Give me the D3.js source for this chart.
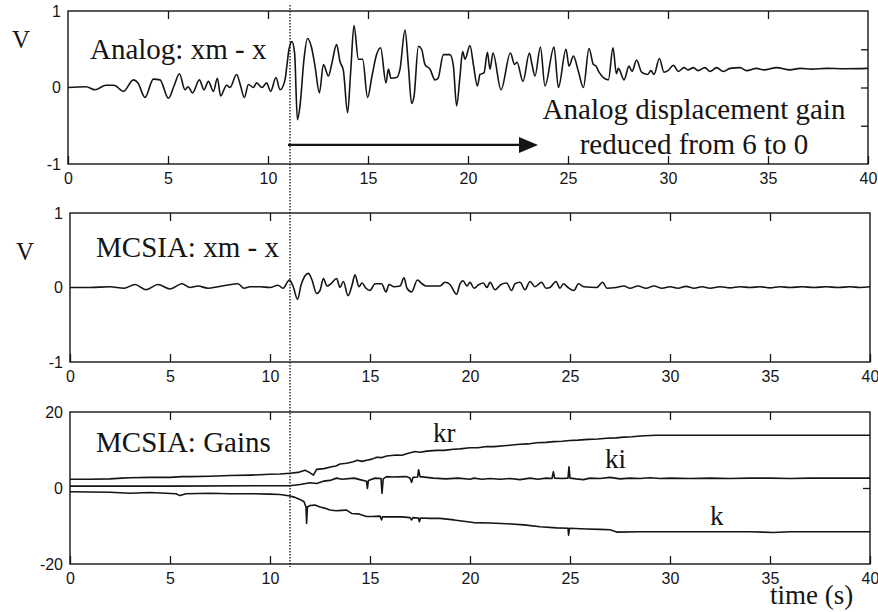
<!DOCTYPE html>
<html>
<head>
<meta charset="utf-8">
<script src="https://cdn.jsdelivr.net/npm/d3@7"></script>
<style>
  html, body { margin: 0; padding: 0; background: #fff; }
  svg { display: block; }
</style>
</head>
<body>
<svg id="chart" width="878" height="612"></svg>
<script>
// Shared time axis (seconds)
const timeDomain = [0, 40];
const timeTicks = [0, 5, 10, 15, 20, 25, 30, 35, 40];

// Instant the analog displacement gain starts being reduced
const switchTime = 11;
const arrowStart = 11;
const arrowEnd = 23.5;
const arrowLevel = -0.75;

// Panel 1: analog controller error xm - x [time (s), V]
const analogError = [
  [0,0],[0.9,0.01],[1.35,-0.03],[1.9,0.03],[2.3,0.03],[2.77,-0.05],[3.27,0.1],[3.5,0.06],[3.85,-0.13],
  [4.27,0.11],[4.6,0.1],[5.02,-0.14],[5.3,0.02],[5.57,0.18],[5.85,-0.03],[6.0,0.01],[6.23,-0.07],
  [6.57,0.1],[6.8,-0.03],[7.02,0.08],[7.27,-0.05],[7.47,0.12],[7.63,-0.11],[7.93,0.03],[8.1,0.0],
  [8.43,0.17],[8.6,0.05],[8.82,-0.13],[9.02,0.04],[9.27,0.0],[9.43,0.06],[9.7,0.0],[9.93,0.06],
  [10.13,-0.05],[10.4,0.13],[10.6,-0.03],[10.85,0.1],[10.95,0.3],[11.05,0.5],[11.2,0.6],[11.33,0.45],
  [11.47,-0.42],[11.6,-0.24],[11.8,0.37],[11.97,0.64],[12.18,0.52],[12.35,0.28],[12.57,-0.07],
  [12.77,0.3],[13.02,0.15],[13.18,0.3],[13.43,0.56],[13.6,0.34],[13.77,0.22],[13.98,-0.33],
  [14.13,0.19],[14.3,0.81],[14.52,0.37],[14.73,0.37],[14.98,-0.13],[15.2,0.15],[15.43,0.43],
  [15.63,0.52],[15.9,0.06],[16.02,0.24],[16.15,0.12],[16.43,0.13],[16.6,0.24],[16.85,0.75],
  [17.02,0.28],[17.18,-0.21],[17.3,-0.12],[17.52,0.54],[17.68,0.5],[17.85,0.3],[18.1,0.24],
  [18.35,0.1],[18.5,0.12],[18.77,0.43],[19.1,0.43],[19.27,0.28],[19.43,-0.24],[19.6,0.15],
  [19.73,0.47],[19.85,0.37],[20.1,0.55],[20.27,0.3],[20.47,0.02],[20.6,0.17],[20.8,0.19],
  [20.97,0.46],[21.1,0.24],[21.25,0.45],[21.65,-0.03],[22.12,0.45],[22.33,0.3],[22.45,0.33],
  [22.75,0.08],[23.07,0.45],[23.2,0.3],[23.35,0.15],[23.62,0.53],[23.85,0.02],[24.3,0.53],
  [24.52,0.0],[24.9,0.5],[25.05,0.28],[25.27,0.41],[25.52,0.21],[25.77,0.0],[26.05,0.51],
  [26.27,0.3],[26.4,0.28],[26.55,0.2],[27.02,0.1],[27.25,0.52],[27.42,0.18],[27.52,0.25],
  [27.8,0.1],[28.05,0.28],[28.2,0.21],[28.43,0.36],[28.68,0.2],[28.97,0.17],[29.15,0.22],
  [29.3,0.17],[29.57,0.38],[29.8,0.2],[30.0,0.22],[30.27,0.29],[30.52,0.21],[30.8,0.26],
  [31.0,0.23],[31.27,0.26],[31.5,0.22],[31.85,0.26],[32.1,0.21],[32.43,0.26],[32.77,0.21],
  [33.1,0.25],[33.6,0.26],[33.93,0.22],[34.43,0.25],[34.8,0.23],[35.43,0.26],[36.1,0.23],
  [36.6,0.25],[37.2,0.24],[37.93,0.25],[38.8,0.245],[40,0.25]
];

// Panel 2: MCSIA controller error xm - x [time (s), V]
const mcsiaError = [
  [0,0],[1,0.0],[2,0.01],[2.7,-0.01],[3.25,0.04],[3.8,-0.03],[4.4,0.04],[5.0,-0.02],[5.6,0.05],
  [6.0,0.0],[6.4,0.02],[6.9,-0.01],[7.4,0.01],[7.83,0.03],[8.4,0.05],[8.7,-0.01],[9.0,0.01],
  [9.5,0.01],[10.0,0.0],[10.4,0.03],[10.65,-0.01],[10.97,0.1],[11.15,0.02],[11.38,-0.16],
  [11.55,0.03],[11.92,0.19],[12.1,0.1],[12.33,-0.08],[12.5,-0.04],[12.67,0.12],[12.85,0.02],
  [13.08,0.06],[13.33,0.12],[13.5,0.0],[13.67,0.08],[13.9,-0.11],[14.1,0.03],[14.25,0.17],
  [14.45,0.01],[14.6,0.06],[14.8,-0.01],[15.0,-0.04],[15.25,0.05],[15.58,0.05],[15.8,-0.06],
  [15.95,0.04],[16.2,0.01],[16.5,0.02],[16.7,0.13],[16.85,-0.01],[17.08,-0.06],[17.37,0.1],
  [17.6,0.05],[17.8,0.02],[18.17,0.02],[18.5,0.02],[18.75,0.07],[19.0,0.04],[19.33,-0.09],
  [19.5,0.05],[19.65,0.09],[19.85,0.02],[20.0,0.07],[20.2,-0.01],[20.45,0.04],[20.67,0.06],
  [20.85,0.0],[21.0,0.07],[21.25,-0.03],[21.55,0.04],[21.83,0.06],[22.08,-0.04],[22.25,0.05],
  [22.5,0.07],[22.75,-0.03],[23.0,0.08],[23.25,0.01],[23.58,0.07],[23.8,-0.01],[24.0,0.0],
  [24.3,0.08],[24.5,-0.01],[24.67,0.05],[24.9,0.0],[25.2,-0.04],[25.42,0.05],[25.7,0.01],
  [26.33,0.0],[26.63,0.07],[26.85,-0.01],[27.3,0.0],[27.7,0.02],[28.0,-0.01],[28.4,0.02],
  [28.8,-0.01],[29.2,0.02],[29.6,-0.01],[30.0,0.01],[30.4,-0.01],[30.8,0.015],[31.2,-0.01],
  [31.6,0.01],[32,-0.01],[32.5,0.01],[33,-0.005],[33.5,0.01],[34,0.0],[34.5,0.01],[35,-0.005],
  [35.5,0.01],[36,0.0],[36.6,0.01],[37.2,0.0],[37.8,0.01],[38.4,0.0],[39,0.01],[39.5,0.0],[40,0.01]
];

// Panel 3: MCSIA adaptive gains [time (s), gain]
const gainKr = [
  [0,2.3],[1,2.3],[2,2.4],[2.6,2.6],[3,2.7],[4,2.8],[5,2.8],[5.6,3.0],[6,3.0],[7,3.1],[8,3.3],
  [9,3.4],[10,3.6],[10.5,3.7],[11,3.9],[11.4,4.1],[11.75,4.7],[12.0,4.0],[12.17,3.4],[12.33,4.9],
  [12.7,5.1],[13.08,5.6],[13.3,5.8],[13.5,6.3],[13.83,6.5],[14.17,6.9],[14.37,7.3],[14.6,7.0],
  [14.83,7.3],[15.1,7.6],[15.33,8.1],[15.6,8.0],[15.83,8.4],[16.33,8.7],[16.6,8.6],[16.83,9.0],
  [17.25,9.6],[17.5,9.4],[17.83,9.7],[18.33,9.9],[18.7,9.9],[19.17,10.2],[19.5,10.3],[20.0,10.6],
  [20.4,10.6],[20.83,10.9],[21.2,10.9],[21.7,11.1],[22.1,11.3],[22.5,11.5],[22.9,11.6],[23.33,11.9],
  [23.8,12.0],[24.2,12.2],[24.6,12.3],[25.0,12.5],[25.4,12.6],[25.9,12.8],[26.4,12.9],[26.83,13.1],
  [27.3,13.2],[27.7,13.4],[28.1,13.5],[28.5,13.7],[29.0,13.8],[29.33,13.9],[30.17,13.9],[32,13.9],
  [35,13.9],[40,13.9]
];
const gainKi = [
  [0,0.5],[5,0.5],[10,0.6],[11,0.6],[11.5,0.9],[12.0,1.4],[12.33,1.2],[12.67,1.8],[13.0,2.0],
  [13.33,2.6],[13.6,2.3],[14.2,2.6],[14.5,2.2],[14.82,1.8],[14.87,-0.1],[14.92,2.0],[15.25,2.6],
  [15.55,2.5],[15.6,-1.4],[15.66,2.4],[15.83,3.0],[16.1,2.9],[16.8,3.0],[17.0,2.6],[17.08,1.5],
  [17.15,2.8],[17.38,2.9],[17.43,4.8],[17.5,3.0],[18.17,2.6],[18.8,2.4],[19.4,2.6],[20.0,2.3],
  [20.2,2.6],[20.6,2.3],[21.0,2.5],[21.5,2.3],[22.0,2.5],[22.5,2.2],[23.0,2.6],[23.4,2.3],
  [23.8,2.6],[24.1,2.5],[24.17,4.3],[24.23,2.6],[24.6,2.5],[24.9,2.6],[24.95,5.6],[25.0,2.6],
  [25.3,2.4],[25.67,2.2],[26.0,2.6],[26.5,2.5],[27,2.8],[27.5,2.4],[28,2.6],[28.5,2.5],[29,2.7],
  [29.5,2.5],[30,2.6],[31,2.5],[32,2.6],[33,2.5],[34,2.6],[35,2.6],[36,2.5],[37,2.6],[38,2.6],
  [39,2.6],[40,2.6]
];
const gainK = [
  [0,-1.0],[2,-1.1],[3,-1.4],[4,-1.2],[5.3,-1.5],[5.5,-2.0],[5.8,-1.5],[7,-1.4],[8,-1.5],[9,-1.5],
  [10,-1.6],[10.5,-1.7],[11,-2.1],[11.2,-2.4],[11.5,-3.0],[11.7,-3.6],[11.8,-5.0],[11.83,-9.3],
  [11.87,-5.0],[12.0,-4.6],[12.25,-4.5],[12.5,-5.0],[12.75,-5.3],[13.0,-5.8],[13.3,-6.0],[13.6,-5.9],
  [13.83,-5.8],[14.08,-6.7],[14.4,-6.8],[14.83,-7.5],[15.1,-7.5],[15.5,-7.4],[15.58,-8.4],[15.62,-7.6],
  [16,-7.6],[16.6,-7.6],[17.0,-7.8],[17.08,-8.4],[17.15,-7.8],[17.42,-7.9],[17.47,-8.9],[17.52,-7.9],
  [18.0,-8.0],[18.5,-8.0],[19.2,-8.4],[20.17,-9.1],[21.0,-9.2],[21.83,-9.4],[22.7,-9.7],[23.5,-10.2],
  [24.33,-10.5],[24.9,-10.6],[24.93,-12.4],[24.97,-10.6],[25.83,-10.8],[26.5,-10.9],[27.0,-11.0],
  [27.33,-11.6],[28.5,-11.5],[30,-11.5],[32,-11.5],[34,-11.5],[35.17,-11.7],[36,-11.5],[38,-11.5],
  [40,-11.5]
];

// Y tick labels and right-hand ticks for each panel
const voltLabels = [-1, 0, 1];
const voltRightTicks = [-0.5, 0, 0.5];
const gainLabels = [-20, 0, 20];
const gainRightTicks = [0];

const svg = d3.select("#chart");
const ink = "#151515";
const plain = d => String(d);   // integers with an ASCII hyphen for negatives

const panels = [
  { left: 68, right: 868, top: 11, bottom: 164, domain: [-1, 1], labels: voltLabels, rightTicks: voltRightTicks },
  { left: 70, right: 870, top: 213, bottom: 362, domain: [-1, 1], labels: voltLabels, rightTicks: [] },
  { left: 70, right: 870, top: 412, bottom: 564, domain: [-20, 20], labels: gainLabels, rightTicks: gainRightTicks }
];

panels.forEach(p => {
  p.x = d3.scaleLinear().domain(timeDomain).range([p.left, p.right]);
  p.y = d3.scaleLinear().domain(p.domain).range([p.bottom, p.top]);
  const g = svg.append("g");

  g.append("rect")
    .attr("x", p.left).attr("y", p.top)
    .attr("width", p.right - p.left).attr("height", p.bottom - p.top)
    .attr("fill", "none").attr("stroke", ink).attr("stroke-width", 1.4);

  const bottom = g.append("g").attr("transform", `translate(0,${p.bottom})`)
    .call(d3.axisBottom(p.x).tickValues(timeTicks).tickFormat(plain)
      .tickSizeInner(-8).tickSizeOuter(0).tickPadding(9));
  const top = g.append("g").attr("transform", `translate(0,${p.top})`)
    .call(d3.axisTop(p.x).tickValues(timeTicks.slice(1, -1)).tickSizeInner(-8).tickSizeOuter(0).tickFormat(""));
  const left = g.append("g").attr("transform", `translate(${p.left},0)`)
    .call(d3.axisLeft(p.y).tickValues(p.labels).tickFormat(plain).tickSize(0).tickPadding(7));
  const right = g.append("g").attr("transform", `translate(${p.right},0)`)
    .call(d3.axisRight(p.y).tickValues(p.rightTicks).tickSizeInner(-7).tickSizeOuter(0).tickFormat(""));

  [bottom, top, left, right].forEach(a => {
    a.select(".domain").remove();
    a.selectAll("line").attr("stroke", ink).attr("stroke-width", 1.3);
    a.selectAll("text").attr("fill", ink)
      .style("font-family", "'Liberation Sans', Arial, sans-serif").style("font-size", "16px");
  });
});

const [p1, p2, p3] = panels;

function trace(p, data, curve) {
  const line = d3.line().x(d => p.x(d[0])).y(d => p.y(d[1])).curve(curve);
  svg.append("path").datum(data)
    .attr("d", line)
    .attr("fill", "none").attr("stroke", ink).attr("stroke-width", 1.6)
    .attr("stroke-linejoin", "round");
}

trace(p1, analogError, d3.curveMonotoneX);
trace(p2, mcsiaError, d3.curveMonotoneX);
trace(p3, gainKr, d3.curveLinear);
trace(p3, gainKi, d3.curveLinear);
trace(p3, gainK, d3.curveLinear);

// Dotted marker at the gain switch, running through all three panels
svg.append("line")
  .attr("x1", p2.x(switchTime)).attr("x2", p2.x(switchTime))
  .attr("y1", 5).attr("y2", 567)
  .attr("stroke", ink).attr("stroke-width", 1.3).attr("stroke-dasharray", "1.5,1.5");

// Arrow showing the period over which the analog gain is reduced
const ay = p1.y(arrowLevel);
const tipX = p1.x(arrowEnd);
svg.append("line")
  .attr("x1", p1.x(arrowStart)).attr("x2", tipX - 16)
  .attr("y1", ay).attr("y2", ay)
  .attr("stroke", ink).attr("stroke-width", 2.2);
svg.append("path")
  .attr("d", `M${tipX},${ay} L${tipX - 19},${ay - 8} L${tipX - 19},${ay + 8} Z`)
  .attr("fill", ink);

// Serif annotations
const serif = "'Liberation Serif', 'Times New Roman', serif";
function label(x, y, text, size, anchor) {
  svg.append("text").attr("x", x).attr("y", y)
    .attr("text-anchor", anchor || "start")
    .attr("fill", ink)
    .style("font-family", serif).style("font-size", size + "px")
    .text(text);
}

label(12, 48, "V", 25);
label(16, 260, "V", 25);
label(90, 59, "Analog: xm - x", 29);
label(96, 257, "MCSIA: xm - x", 29);
label(96, 452, "MCSIA: Gains", 29);
label(694, 119, "Analog displacement gain", 29, "middle");
label(694, 154, "reduced from 6 to 0", 29, "middle");
label(433, 442, "kr", 27);
label(605, 468, "ki", 27);
label(710, 525, "k", 27);
label(770, 604, "time (s)", 27);
</script>
</body>
</html>
